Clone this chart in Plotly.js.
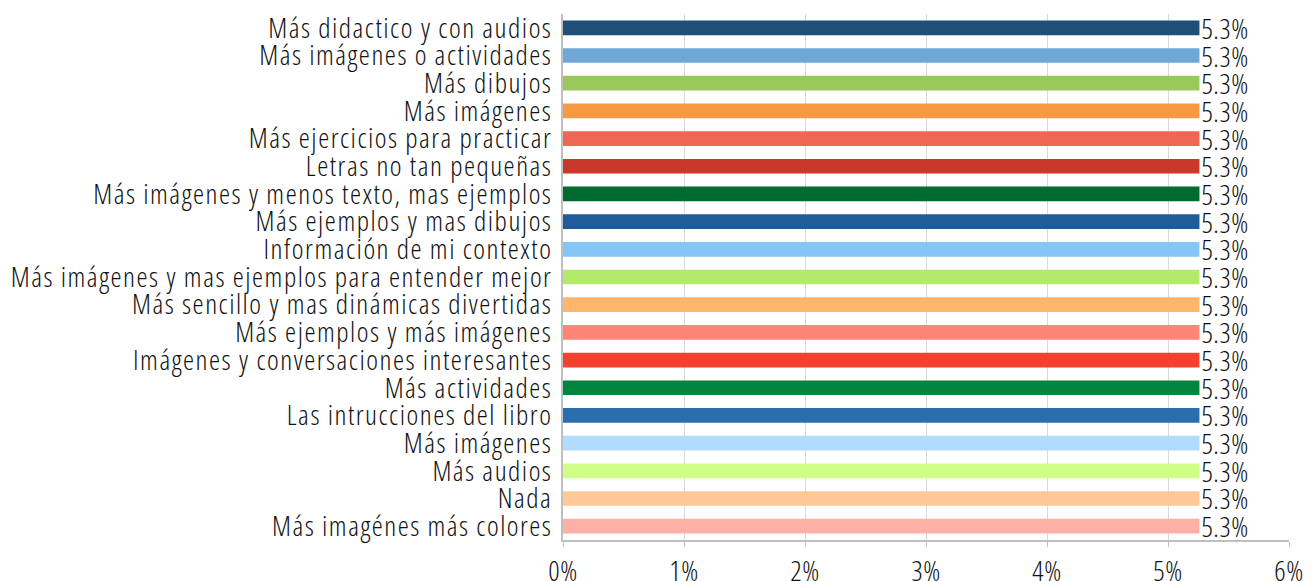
<!DOCTYPE html>
<html>
<head>
<meta charset="utf-8">
<script src="https://cdn.plot.ly/plotly-3.0.1.min.js"></script>
<style>
html,body{margin:0;padding:0;background:#fff;}
#chart{width:1312px;height:581px;}
#chart text{font-stretch:75% !important;}
#chart .ytick text{letter-spacing:1.5px;}
#chart .bartext{letter-spacing:0.5px; translate:-8px 0;}
#chart .xtick text{letter-spacing:0.5px;}
</style>
</head>
<body>
<div id="chart"></div>
<script>
const categories = [
  "Más didactico y con audios",
  "Más imágenes o actividades",
  "Más dibujos",
  "Más imágenes",
  "Más ejercicios para practicar",
  "Letras no tan pequeñas",
  "Más imágenes y menos texto, mas ejemplos",
  "Más ejemplos y mas dibujos",
  "Información de mi contexto",
  "Más imágenes y mas ejemplos para entender mejor",
  "Más sencillo y mas dinámicas divertidas",
  "Más ejemplos y más imágenes",
  "Imágenes y conversaciones interesantes",
  "Más actividades",
  "Las intrucciones del libro",
  "Más imágenes",
  "Más audios",
  "Nada",
  "Más imagénes más colores"
];
const values = [5.26,5.26,5.26,5.26,5.26,5.26,5.26,5.26,5.26,5.26,5.26,5.26,5.26,5.26,5.26,5.26,5.26,5.26,5.26];
const valueLabels = ["5.3%","5.3%","5.3%","5.3%","5.3%","5.3%","5.3%","5.3%","5.3%","5.3%","5.3%","5.3%","5.3%","5.3%","5.3%","5.3%","5.3%","5.3%","5.3%"];
const colors = ["#1f4e79","#6fa8d6","#9bc85a","#f59a43","#ef6655","#c9382a","#006b2f","#1f5b99","#85c6f7","#b3ea6a","#ffb56c","#ff8577","#f4412f","#00853f","#2a6fad","#b2dcff","#d0ff88","#ffc896","#ffb0a5"];
const xTickVals = [0,1,2,3,4,5,6];
const xTickText = ["0%","1%","2%","3%","4%","5%","6%"];

const positions = categories.map((c,i)=>i);
const fontFam = '"Open Sans", "DejaVu Sans Condensed", sans-serif';

const trace = {
  type: 'bar',
  orientation: 'h',
  x: values,
  y: positions,
  text: valueLabels,
  textposition: 'outside',
  constraintext: 'none',
  cliponaxis: false,
  textfont: {family: fontFam, size: 28, color: '#111', weight: 300},
  marker: {color: colors},
  hoverinfo: 'none'
};

const layout = {
  width: 1312, height: 581,
  margin: {l: 563, r: 23, t: 14, b: 41},
  paper_bgcolor: '#fff', plot_bgcolor: '#fff',
  bargap: 0.47,
  showlegend: false,
  font: {family: fontFam, size: 28, color: '#111', weight: 300},
  xaxis: {
    range: [0, 6],
    tickvals: xTickVals, ticktext: xTickText,
    showgrid: true, gridcolor: '#d9d9d9', gridwidth: 1,
    showline: true, linecolor: '#bfbfbf', linewidth: 2,
    ticks: 'outside', ticklen: 5, tickcolor: '#bfbfbf',
    zeroline: false,
    tickfont: {family: fontFam, size: 28, color: '#111', weight: 300}
  },
  yaxis: {
    range: [categories.length - 0.5, -0.5],
    tickvals: positions, ticktext: categories,
    showgrid: false, zeroline: false,
    showline: true, linecolor: '#bfbfbf', linewidth: 2,
    ticks: '', ticklabelstandoff: 3,
    tickfont: {family: fontFam, size: 28, color: '#111', weight: 300}
  }
};

Plotly.newPlot('chart', [trace], layout, {displayModeBar: false, staticPlot: true});
</script>
</body>
</html>
